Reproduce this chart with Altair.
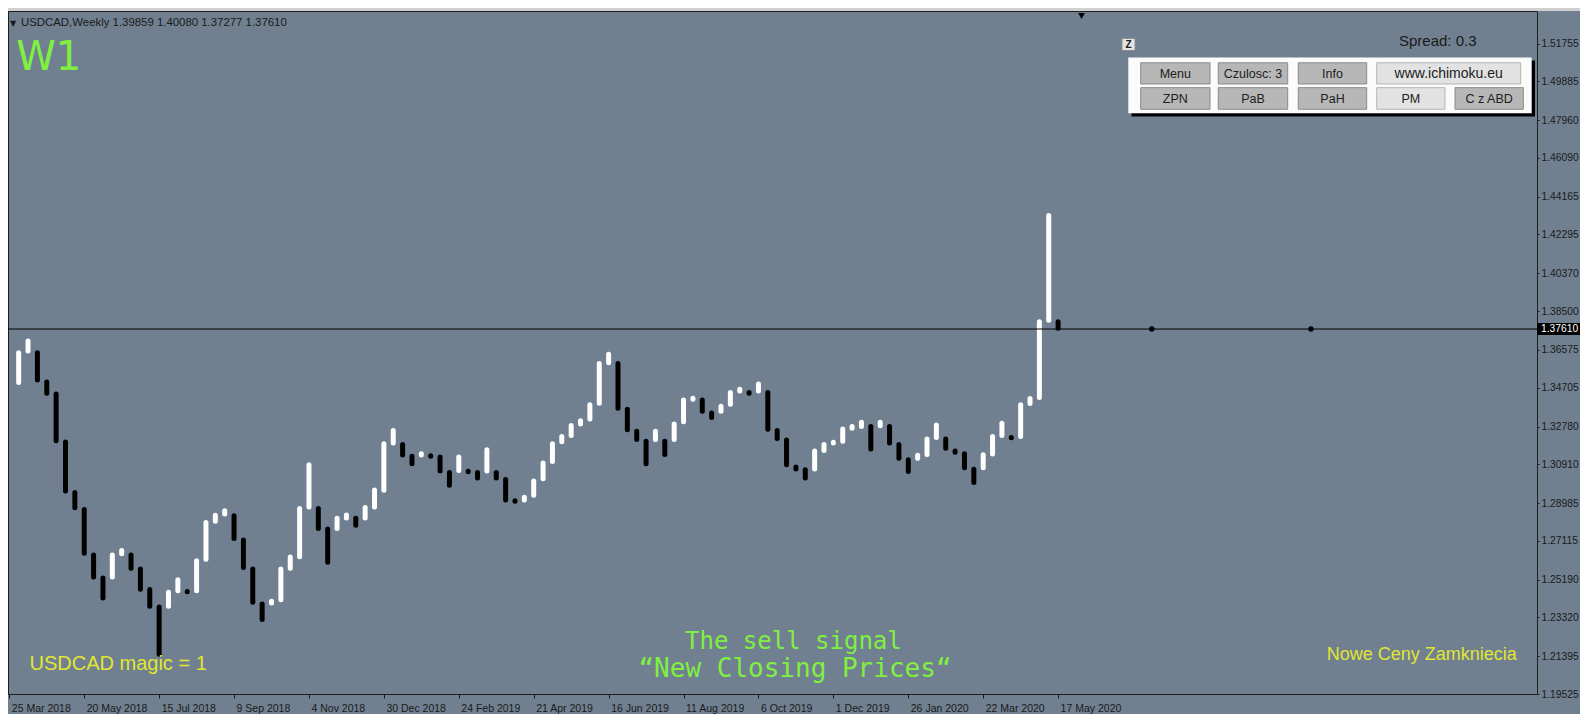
import altair as alt
import pandas as pd

# ---------------- data ----------------
bar_index = list(range(1, 113))
bar_high = [
    1.3644, 1.3702, 1.3644, 1.3499, 1.3439, 1.3201, 1.2951, 1.2867, 1.2641, 1.2527,
    1.2641, 1.2664, 1.2641, 1.2572, 1.2470, 1.2383, 1.2457, 1.2519, 1.2461, 1.2613,
    1.2802, 1.2838, 1.2860, 1.2836, 1.2716, 1.2572, 1.2399, 1.2412, 1.2572, 1.2631,
    1.2872, 1.3089, 1.2872, 1.2770, 1.2823, 1.2839, 1.2823, 1.2877, 1.2963, 1.3192,
    1.3258, 1.3189, 1.3130, 1.3143, 1.3133, 1.3127, 1.3050, 1.3127, 1.3056, 1.3050,
    1.3163, 1.3050, 1.3016, 1.2910, 1.2927, 1.3008, 1.3097, 1.3192, 1.3229, 1.3283,
    1.3307, 1.3386, 1.3590, 1.3636, 1.3590, 1.3364, 1.3254, 1.3205, 1.3254, 1.3205,
    1.3291, 1.3409, 1.3418, 1.3409, 1.3345, 1.3378, 1.3447, 1.3463, 1.3447, 1.3488,
    1.3447, 1.3258, 1.3211, 1.3077, 1.3064, 1.3156, 1.3189, 1.3200, 1.3266, 1.3278,
    1.3299, 1.3278, 1.3299, 1.3278, 1.3189, 1.3113, 1.3135, 1.3216, 1.3286, 1.3216,
    1.3156, 1.3143, 1.3066, 1.3138, 1.3229, 1.3294, 1.3224, 1.3386, 1.3417, 1.3797,
    1.4323, 1.3797,
]
bar_low = [
    1.3496, 1.3652, 1.3509, 1.3443, 1.3208, 1.2959, 1.2875, 1.2650, 1.2532, 1.2428,
    1.2532, 1.2647, 1.2576, 1.2472, 1.2387, 1.2149, 1.2387, 1.2464, 1.2459, 1.2464,
    1.2620, 1.2809, 1.2844, 1.2723, 1.2579, 1.2407, 1.2322, 1.2403, 1.2420, 1.2576,
    1.2633, 1.2879, 1.2773, 1.2605, 1.2773, 1.2825, 1.2789, 1.2825, 1.2879, 1.2962,
    1.3196, 1.3137, 1.3093, 1.3137, 1.3131, 1.3057, 1.2987, 1.3060, 1.3054, 1.3023,
    1.3057, 1.3023, 1.2914, 1.2908, 1.2914, 1.2937, 1.3019, 1.3105, 1.3203, 1.3233,
    1.3290, 1.3315, 1.3393, 1.3594, 1.3368, 1.3262, 1.3213, 1.3093, 1.3213, 1.3139,
    1.3213, 1.3302, 1.3413, 1.3353, 1.3323, 1.3353, 1.3388, 1.3454, 1.3443, 1.3454,
    1.3265, 1.3219, 1.3088, 1.3068, 1.3023, 1.3068, 1.3159, 1.3196, 1.3205, 1.3269,
    1.3278, 1.3167, 1.3282, 1.3196, 1.3121, 1.3055, 1.3121, 1.3139, 1.3224, 1.3170,
    1.3151, 1.3074, 1.3000, 1.3074, 1.3142, 1.3233, 1.3222, 1.3229, 1.3392, 1.3422,
    1.3805, 1.3765,
]
bar_kind = list(
    "WWBBBBBBBB" "WWBBBBWWBW" "WWWBBBBWWW" "WWBBWWBWWW" "WBBWBBBWBB"
    "WBBBWWWWWW" "WWWWBBBBWB" "WWWBBWWWBW" "BBBBBWWWWW" "WBWBBBWWWB"
    "BBBWWWBWWW" "WB"
)
future_index = [122, 139]
last_price = 1.37610
shift_marker_index = [114.5]

y_tick_values = [1.51755, 1.49885, 1.47960, 1.46090, 1.44165, 1.42295, 1.40370, 1.38500,
                 1.36575, 1.34705, 1.32780, 1.30910, 1.28985, 1.27115, 1.25190, 1.23320,
                 1.21395, 1.19525]
x_tick_labels = ["25 Mar 2018", "20 May 2018", "15 Jul 2018", "9 Sep 2018", "4 Nov 2018",
                 "30 Dec 2018", "24 Feb 2019", "21 Apr 2019", "16 Jun 2019", "11 Aug 2019",
                 "6 Oct 2019", "1 Dec 2019", "26 Jan 2020", "22 Mar 2020", "17 May 2020"]
x_tick_step = 8

header_text = "USDCAD,Weekly  1.39859 1.40080 1.37277 1.37610"
timeframe_text = "W1"
spread_text = "Spread: 0.3"
magic_text = "USDCAD  magic = 1"
indicator_text = "Nowe Ceny Zamkniecia"
signal_lines = ["The sell signal", "\u201cNew Closing Prices\u201c"]
button_labels = ["Menu", "Czulosc: 3", "Info", "www.ichimoku.eu", "ZPN", "PaB", "PaH", "PM", "C z ABD"]

# ---------------- layout ----------------
PLOT_W, PLOT_H = 1529, 683
PAD = {"left": 0, "top": 3, "right": 43, "bottom": 20}
BG = "#708090"
DARK = "#1a1a1a"
GREEN = "#80f040"
YELLOW = "#e1e632"
AXIS_FONT = 10.3


def cx(v):
    return v - 8


def cy(v):
    return (v - 14) * PLOT_H / 686


xs = alt.Scale(domain=[-0.14, 163.14], nice=False, zero=False)
ys = alt.Scale(domain=[1.19525, 1.53369], nice=False, zero=False)

label_list = "[" + ",".join("'%s'" % s for s in x_tick_labels) + "]"
x_axis = alt.Axis(
    values=[i * x_tick_step for i in range(len(x_tick_labels))],
    labelExpr=label_list + "[round(datum.value/%d)]" % x_tick_step,
    labelAlign="left", labelBaseline="top", labelPadding=5, labelOffset=2,
    tickSize=4, tickColor=DARK, labelColor=DARK, labelFont="Liberation Sans",
    labelFontSize=10.5, domain=False, grid=False, title=None,
    labelOverlap=False, labelFlush=False, labelBound=False,
)
y_axis = alt.Axis(
    orient="right", values=y_tick_values, format=".5f",
    tickSize=2, tickColor=DARK, labelPadding=2, labelColor=DARK,
    labelFont="Liberation Sans", labelFontSize=AXIS_FONT, domain=False, grid=False,
    title=None, labelOverlap=False, labelFlush=False, labelBound=False,
)

bars = pd.DataFrame({"i": bar_index, "hi": bar_high, "lo": bar_low, "k": bar_kind})
dummy = pd.DataFrame({"d": [0]})


def text_layer(txt, x, y, size, color, font="Liberation Sans", align="left",
               baseline="alphabetic", weight="normal"):
    return alt.Chart(dummy).mark_text(
        text=txt, fontSize=size, font=font, color=color, align=align,
        baseline=baseline, fontWeight=weight,
    ).encode(x=alt.value(x), y=alt.value(y))


def rect_layer(x0, x1, y0, y1, fill, stroke=None):
    kw = dict(fill=fill, opacity=1)
    if stroke:
        kw.update(stroke=stroke, strokeWidth=1)
    return alt.Chart(dummy).mark_rect(**kw).encode(
        x=alt.value(x0), x2=alt.value(x1), y=alt.value(y0), y2=alt.value(y1))


def X(field):
    return alt.X(field, scale=xs, axis=x_axis)


def Y(field):
    return alt.Y(field, scale=ys, axis=y_axis)


layers = []

# top strip
layers.append(rect_layer(0, PLOT_W + PAD["right"], -3, 0, "#d0d0d0"))

# NCP bars (carry both axes)
layers.append(
    alt.Chart(bars).mark_rule(strokeWidth=5, strokeCap="round").encode(
        x=X("i:Q"),
        y=Y("hi:Q"),
        y2="lo:Q",
        color=alt.Color("k:N", scale=alt.Scale(domain=["W", "B"], range=["#ffffff", "#000000"]),
                        legend=None),
    )
)

# price line
layers.append(
    alt.Chart(pd.DataFrame({"p": [last_price]})).mark_rule(color="#000000", strokeWidth=1)
    .encode(y=Y("p:Q"))
)

# future dots
layers.append(
    alt.Chart(pd.DataFrame({"i": future_index, "p": [last_price] * len(future_index)}))
    .mark_circle(size=30, color="#000000", opacity=1)
    .encode(x=X("i:Q"), y=Y("p:Q"))
)

# chart shift marker
layers.append(
    alt.Chart(pd.DataFrame({"i": shift_marker_index}))
    .mark_point(shape="triangle-down", filled=True, size=45, color="#000000", opacity=1)
    .encode(x=X("i:Q"), y=alt.value(5))
)

# current price label on axis
layers.append(
    alt.Chart(pd.DataFrame({"p": [last_price]}))
    .mark_tick(orient="horizontal", size=43, thickness=12, color="#000000", opacity=1)
    .encode(y=Y("p:Q"), x=alt.value(PLOT_W + 21.5))
)
layers.append(
    alt.Chart(pd.DataFrame({"p": [last_price]}))
    .mark_text(text="%.5f" % last_price, color="#ffffff", fontSize=AXIS_FONT,
               font="Liberation Sans", align="left", baseline="middle")
    .encode(y=Y("p:Q"), x=alt.value(PLOT_W + 4))
)

# texts
layers.append(text_layer("\u25bc", cx(13), cy(29.5), 8, DARK, font="DejaVu Sans", align="center"))
layers.append(text_layer(header_text, cx(21), cy(29.5), 11.4, DARK))
layers.append(text_layer(timeframe_text, cx(48.7), cy(73.3), 40, GREEN, font="DejaVu Sans",
                         align="center"))
layers.append(text_layer(spread_text, cx(1399), cy(49.5), 15, DARK))
layers.append(text_layer(magic_text, cx(29.5), cy(676), 20, YELLOW))
layers.append(text_layer(indicator_text, cx(1326.7), cy(666), 18, YELLOW))
layers.append(text_layer(signal_lines[0], cx(793.4), cy(655), 24, GREEN,
                         font="DejaVu Sans Mono", align="center"))
layers.append(text_layer(signal_lines[1], cx(795), cy(683.3), 26, GREEN,
                         font="DejaVu Sans Mono", align="center"))

# control panel
layers.append(rect_layer(cx(1122), cx(1135), cy(41.5), cy(53.7), "#e4e4e4", "#8a8a8a"))
layers.append(text_layer("Z", cx(1128.5), cy(51.5), 10, DARK, align="center", weight="bold"))
layers.append(rect_layer(cx(1131.5), cx(1535), cy(63.7), cy(120), "#000000"))
layers.append(rect_layer(cx(1128.3), cx(1531.7), cy(60.7), cy(116.7), "#fbfbfb"))

row_y = [(66, 87.3), (91, 112.7)]
button_boxes = [
    (1140.7, 1210, 0, "grey"), (1218.3, 1287.7, 0, "grey"), (1298.3, 1366.7, 0, "grey"),
    (1376.7, 1520.7, 0, "light"),
    (1140.7, 1210, 1, "grey"), (1218.3, 1287.7, 1, "grey"), (1298.3, 1366.7, 1, "grey"),
    (1376.7, 1445, 1, "light"), (1455, 1523.3, 1, "grey"),
]
for label, (x0, x1, r, style) in zip(button_labels, button_boxes):
    y0, y1 = row_y[r]
    fill, stroke = ("#b7b7b7", "#8a8a8a") if style == "grey" else ("#e2e2e2", "#b5b5b5")
    layers.append(rect_layer(cx(x0), cx(x1), cy(y0), cy(y1), fill, stroke))
    layers.append(text_layer(label, cx((x0 + x1) / 2), cy((y0 + y1) / 2) + 0.5,
                             14 if style == "light" and r == 0 else 12.5, "#202020",
                             align="center", baseline="middle"))

chart = (
    alt.layer(*layers)
    .properties(
        width=PLOT_W, height=PLOT_H,
        padding=PAD,
        autosize=alt.AutoSizeParams(type="none"),
    )
    .configure(background=BG)
    .configure_view(stroke="#1e1e1e", strokeWidth=1)
)

chart.save("out.html", embed_options={"renderer": "svg", "actions": False})
